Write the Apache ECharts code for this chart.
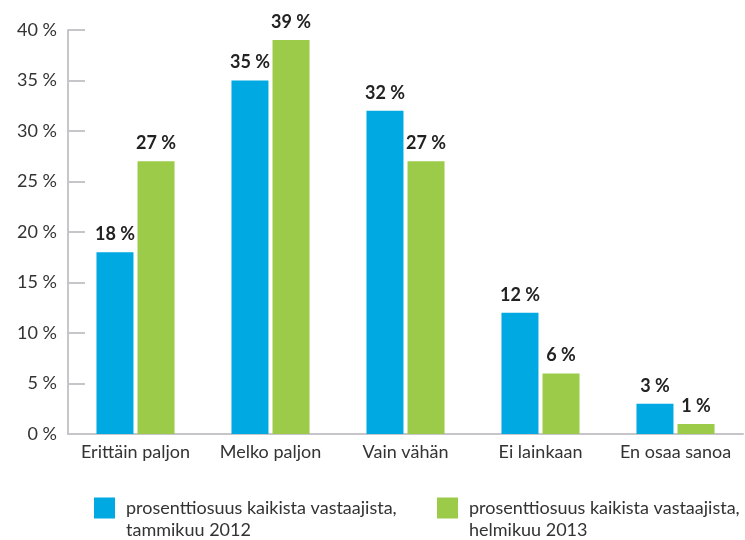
<!DOCTYPE html>
<html><head><meta charset="utf-8">
<script src="https://cdn.jsdelivr.net/npm/echarts@6/dist/echarts.min.js"></script>
<style>html,body{margin:0;padding:0;background:#fff}#c{width:745px;height:540px}</style>
</head><body><div id="c"></div>
<script>
const categories = ['Erittäin paljon', 'Melko paljon', 'Vain vähän', 'Ei lainkaan', 'En osaa sanoa'];
const series2012 = [18, 35, 32, 12, 3];
const series2013 = [27, 39, 27, 6, 1];
const seriesNames = ['prosenttiosuus kaikista vastaajista,\ntammikuu 2012', 'prosenttiosuus kaikista vastaajista,\nhelmikuu 2013'];
const yTicks = [0, 5, 10, 15, 20, 25, 30, 35, 40];

const FONT = 'Lato';
const chart = echarts.init(document.getElementById('c'), null, {renderer: 'canvas'});
const legendBase = {
  orient: 'horizontal', itemWidth: 21, itemHeight: 21, top: 475, itemGap: 0, padding: 0,
  icon: 'rect',
  formatter: name => '\n' + name.split('\n').map(s => '{t|' + s + '}').join('\n'),
  textStyle: {fontFamily: FONT, fontSize: 18, color: '#333', lineHeight: 22,
    rich: {t: {fontFamily: FONT, fontSize: 18, color: '#333', lineHeight: 22, padding: [0, 0, 0, 6]}}}
};
const labelStyle = {show: true, position: 'top', distance: 9, formatter: '{c} %', fontFamily: FONT, fontSize: 18, fontWeight: 'bold', color: '#222'};
chart.setOption({
  animation: false,
  textStyle: {fontFamily: FONT},
  legend: [
    Object.assign({}, legendBase, {left: 94, data: [seriesNames[0]]}),
    Object.assign({}, legendBase, {left: 437, data: [seriesNames[1]]})
  ],
  grid: {left: 68, right: 2, top: 30, bottom: 106, containLabel: false},
  xAxis: {
    type: 'category', data: categories,
    axisLine: {lineStyle: {color: '#c6c6ca', width: 2}},
    axisTick: {inside: true, length: 8, lineStyle: {color: '#c6c6ca', width: 2}},
    axisLabel: {interval: 0, fontFamily: FONT, fontSize: 18, color: '#333', margin: 9}
  },
  yAxis: {
    type: 'value', min: 0, max: 40, interval: 5,
    axisLine: {show: true, lineStyle: {color: '#c6c6ca', width: 2}},
    axisTick: {show: true, inside: true, length: 17, lineStyle: {color: '#c6c6ca', width: 2}},
    splitLine: {show: false},
    axisLabel: {fontFamily: FONT, fontSize: 18, color: '#333', margin: 11,
      formatter: v => yTicks.includes(v) ? v + ' %' : ''}
  },
  series: [
    {name: seriesNames[0], type: 'bar', data: series2012, barWidth: 37, barGap: '11%',
     itemStyle: {color: '#00a9e2'}, label: labelStyle},
    {name: seriesNames[1], type: 'bar', data: series2013, barWidth: 37,
     itemStyle: {color: '#9bcb48'}, label: labelStyle}
  ]
});
</script></body></html>
